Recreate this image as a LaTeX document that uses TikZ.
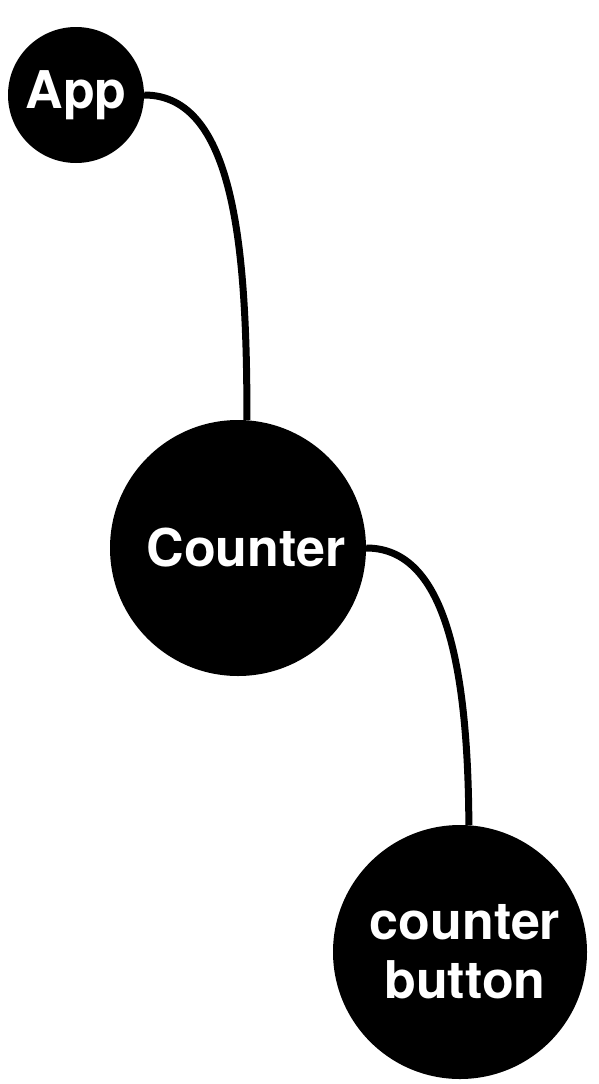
\documentclass[tikz,border=0pt]{standalone}
\usepackage{fontspec}
\setmainfont{TeX Gyre Heros}

\begin{document}
\begin{tikzpicture}[x=1pt,y=-1pt,
    comp/.style={circle,fill=black,text=white,inner sep=0pt,align=center,
      font=\bfseries\fontsize{52}{59}\selectfont},
    link/.style={line width=7pt}]
                \useasboundingbox (0,0) rectangle (598,1084);
                \node[comp,minimum size=136pt] (app) at (76,95) {App};
                \node[comp,minimum size=256pt] (counter) at (238,548) {\hspace*{16pt}Counter};
                \node[comp,minimum size=254pt] (button) at (460,952) {\hspace*{10pt}counter\\\hspace*{10pt}button};
                \draw[link] (app.east) .. controls (235,95) and (247,250) .. (counter.86);
                \draw[link] (counter.east) .. controls (440,548) and (468,650) .. (button.86);
            \end{tikzpicture}
\end{document}
